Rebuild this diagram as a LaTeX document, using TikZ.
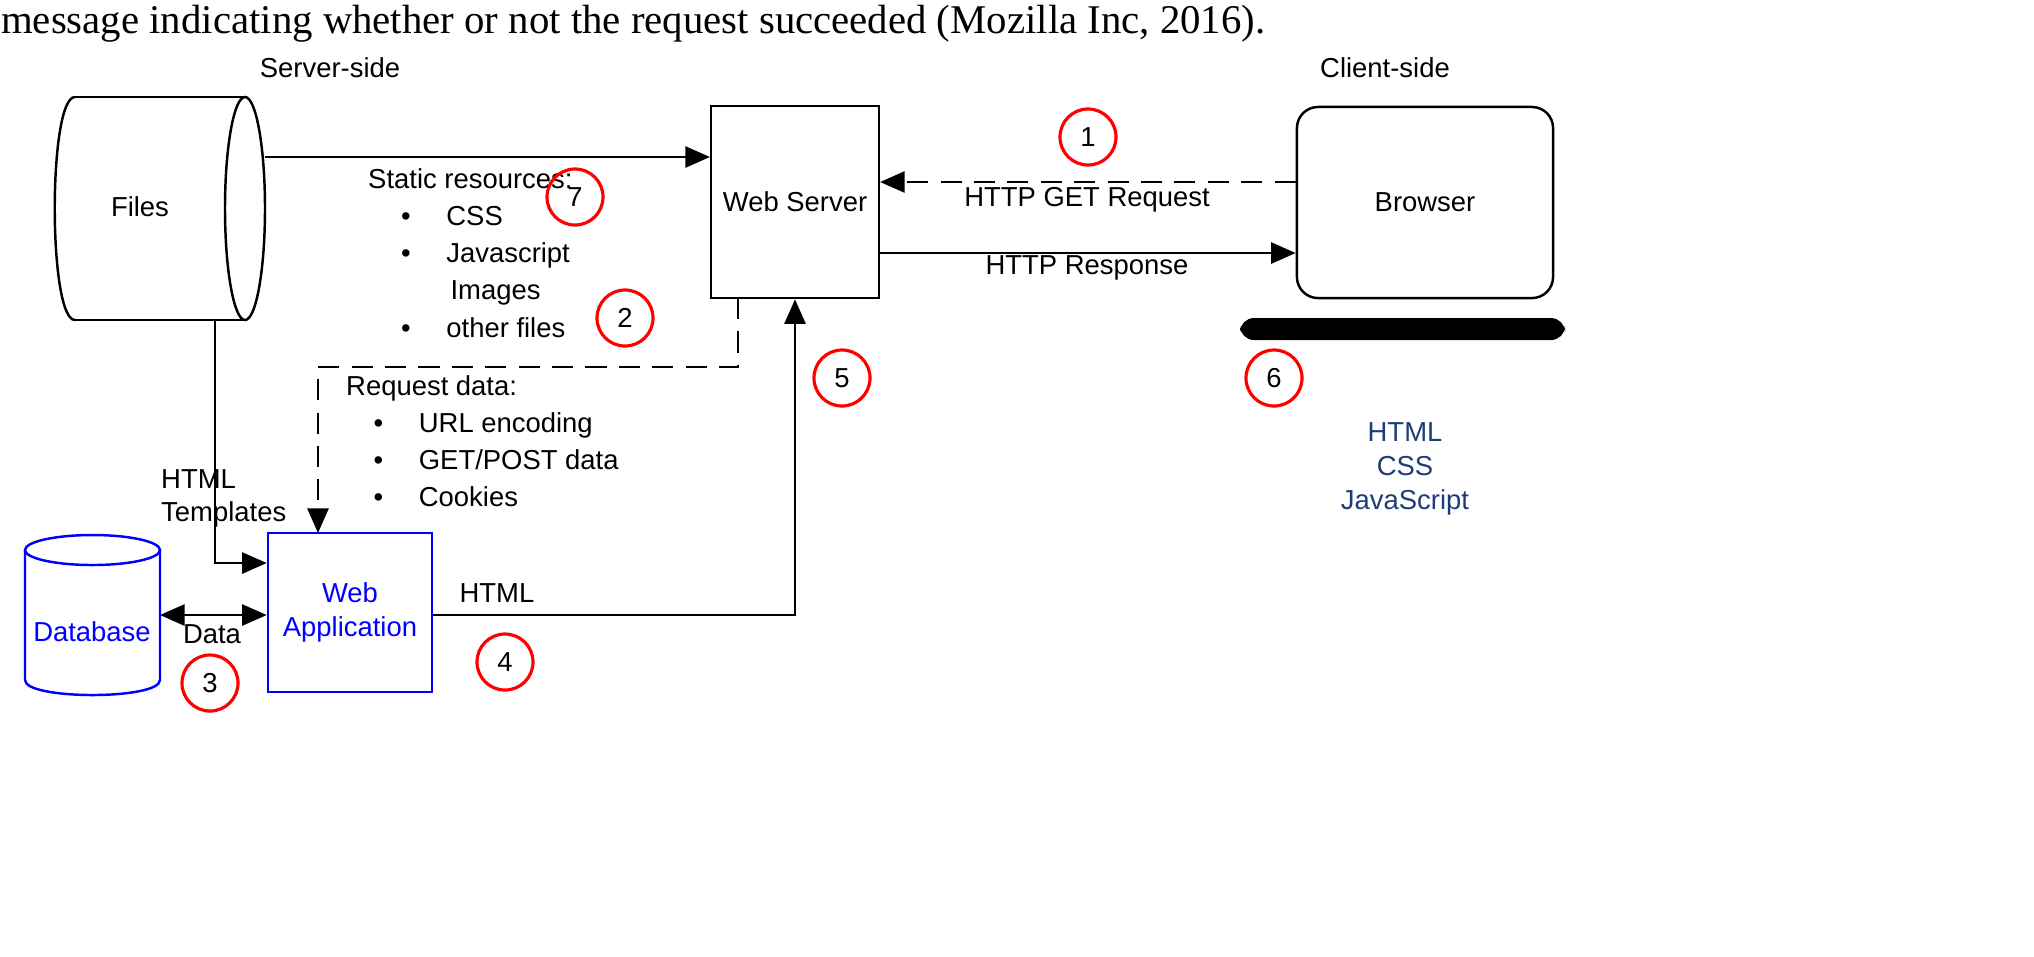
\documentclass[tikz,border=0pt]{standalone}
\usepackage{fontspec}
\setmainfont{Liberation Sans}
\newfontfamily\seriff{Liberation Serif}
\usetikzlibrary{arrows.meta}
\definecolor{dblue}{RGB}{30,60,120}
\begin{document}
\begin{tikzpicture}[x=0.01cm,y=-0.01cm,line width=0.7pt,
  every node/.style={font=\fontsize{7.8}{9.6}\selectfont},
  arr/.style={-{Triangle[length=7pt,width=6pt]}},
  dsh/.style={dash pattern=on 6pt off 3.5pt},
  num/.style={circle,draw=red,line width=0.9pt,minimum size=0.56cm,inner sep=0pt}]
\path[use as bounding box] (0,0) rectangle (2034,956);
\node[anchor=base west,inner sep=0pt,font=\seriff\fontsize{11.6}{14}\selectfont] (top) at (0,33) {message indicating whether or not the request succeeded (Mozilla Inc, 2016).};
\node (ss) at (330,68) {Server-side};
\node (cs) at (1385,68) {Client-side};
% Files cylinder
\draw (75,97) -- (245,97) (75,320) -- (245,320);
\draw (245,208.5) ellipse [x radius=20, y radius=111.5];
\draw (75,97) .. controls (48,97) and (48,320) .. (75,320);
\node (files) at (140,207) {Files};
\coordinate (filesR) at (265,157);
\coordinate (filesB) at (215,320);
% Web server
\node[draw,minimum width=1.66cm,minimum height=1.92cm] (ws) at (795,202) {Web Server};
% Browser
\node[draw,rounded corners=6pt,minimum width=2.56cm,minimum height=1.91cm] (br) at (1425,202.5) {Browser};
\fill[rounded corners=4pt] (1240,318) rectangle (1565,340);
% Files -> WS
\draw[arr] (filesR) -- (ws.west |- filesR);
% GET
\draw[arr,dsh] (br.west |- 0,182) -- (ws.east |- 0,182);
\node (get) at (1087,200) {HTTP GET Request};
\draw[arr] (ws.east |- 0,253) -- (br.west |- 0,253);
\node (resp) at (1087,268) {HTTP Response};
% static
\node[anchor=north west,align=left,inner sep=0pt] (stat) at (367,167) {Static resources:\\[1pt]
\hspace*{1.2em}•\hspace{1.3em}CSS\\[1pt]
\hspace*{1.2em}•\hspace{1.3em}Javascript\\[1pt]
\hspace*{3.0em}Images\\[1pt]
\hspace*{1.2em}•\hspace{1.3em}other files};
% web app
\node[draw=blue,text=blue,align=center,minimum width=1.64cm,minimum height=1.59cm] (wa) at (350,612.5) {Web\\Application};
% database
\draw[blue] (25,550) -- (25,680) .. controls (25,700) and (160,700) .. (160,680) -- (160,550);
\draw[blue] (92.5,550) ellipse [x radius=67.5,y radius=15];
\node[text=blue] (db) at (92,632) {Database};
\coordinate (dbR) at (160,615);
% dashed request path
\draw[arr,dsh] (738,298) -- (738,367) -- (318,367) -- (318,533);
\node[anchor=north west,align=left,inner sep=0pt] (req) at (345,374) {Request data:\\[1pt]
\hspace*{1.0em}•\hspace{1.3em}URL encoding\\[1pt]
\hspace*{1.0em}•\hspace{1.3em}GET/POST data\\[1pt]
\hspace*{1.0em}•\hspace{1.3em}Cookies};
% templates
\draw[arr] (filesB) -- (215,563) -- (wa.west |- 0,563);
\node[align=left,anchor=north west,inner sep=0pt] (tmpl) at (160,468) {HTML\\Templates};
% data
\draw[{Triangle[length=7pt,width=6pt]}-{Triangle[length=7pt,width=6pt]}] (dbR) -- (wa.west |- dbR);
\node (data) at (212,634) {Data};
% html
\draw[arr] (wa.east |- 0,615) -- (795,615) -- (ws.south -| 795,0);
\node (html) at (497,593) {HTML};
\node[text=dblue,align=center] (tech) at (1405,469) {HTML\\CSS\\JavaScript};
% numbers
\node[num] (n1) at (1088,137) {1};
\node[num] (n7) at (575,197) {7};
\node[num] (n2) at (625,318) {2};
\node[num] (n5) at (842,378) {5};
\node[num] (n6) at (1274,378) {6};
\node[num] (n3) at (210,683) {3};
\node[num] (n4) at (505,662) {4};
\end{tikzpicture}
\end{document}
